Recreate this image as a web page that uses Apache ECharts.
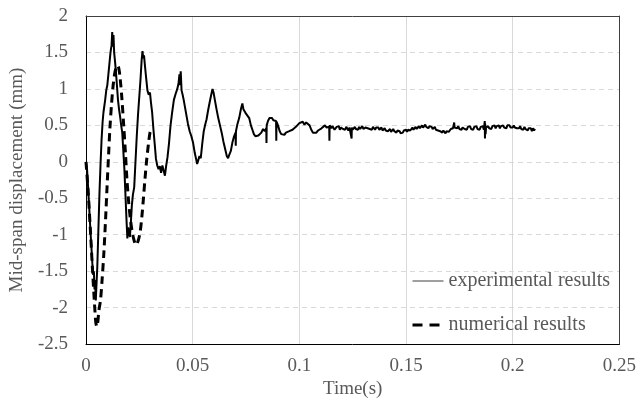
<!DOCTYPE html>
<html>
<head>
<meta charset="utf-8">
<script src="https://cdn.jsdelivr.net/npm/echarts@6/dist/echarts.min.js"></script>
<style>
  html, body { margin: 0; padding: 0; background: #fff; }
  #chart { width: 639px; height: 404px; }
</style>
</head>
<body>
<div id="chart"></div>
<script>
// Axis ranges and tick spacing
const timeTicks = { min: 0, max: 0.25, step: 0.05 };
const dispTicks = { min: -2.5, max: 2, step: 0.5 };

const seriesNames = ['experimental results', 'numerical results'];

// Measured mid-span displacement, [time (s), displacement (mm)]
const experimental = [
  [0, 0.0], [0.0005, -0.1], [0.001, -0.35], [0.0015, -0.62], [0.002, -0.9],
  [0.0025, -1.15], [0.003, -1.4], [0.0034, -1.55], [0.0037, -1.5], [0.004, -1.75],
  [0.0043, -1.62], [0.0046, -1.9], [0.0049, -1.7], [0.0053, -1.45], [0.0058, -0.95],
  [0.0063, -0.45], [0.0068, -0.05], [0.0073, 0.3], [0.0078, 0.55], [0.0082, 0.68],
  [0.0086, 0.7], [0.009, 0.85], [0.0095, 0.98], [0.01, 1.05], [0.0105, 1.2],
  [0.011, 1.35], [0.0115, 1.5], [0.012, 1.6], [0.0123, 1.78], [0.0126, 1.58],
  [0.0129, 1.74], [0.0132, 1.5], [0.0136, 1.38], [0.014, 1.25], [0.0145, 1.05],
  [0.015, 0.85], [0.0155, 0.72], [0.016, 0.62], [0.0165, 0.5], [0.017, 0.4],
  [0.0175, 0.15], [0.018, -0.1], [0.0185, -0.45], [0.019, -0.8], [0.0194, -1.05],
  [0.0198, -0.9], [0.0202, -0.98], [0.0206, -1.03], [0.021, -0.85], [0.0215, -0.6],
  [0.022, -0.45], [0.0226, -0.35], [0.0232, 0.0], [0.0238, 0.35], [0.0244, 0.65],
  [0.025, 0.9], [0.0256, 1.15], [0.0261, 1.4], [0.0265, 1.52], [0.0268, 1.42],
  [0.0272, 1.46], [0.0277, 1.3], [0.0282, 1.15], [0.0288, 0.98], [0.0294, 0.92],
  [0.03, 0.95], [0.0305, 0.8], [0.031, 0.68], [0.0316, 0.45], [0.0322, 0.25],
  [0.0328, 0.04], [0.0334, -0.05], [0.034, -0.1], [0.0346, -0.06], [0.0352, -0.15],
  [0.0358, -0.05], [0.0364, -0.12], [0.037, -0.19], [0.0376, -0.05], [0.0382, 0.06],
  [0.0389, 0.25], [0.0396, 0.49], [0.0404, 0.68], [0.0412, 0.85], [0.042, 0.93],
  [0.0428, 1.0], [0.0434, 1.08], [0.0438, 1.2], [0.0441, 1.05], [0.0444, 1.24],
  [0.0448, 0.98], [0.0453, 0.92], [0.0458, 0.85], [0.0464, 0.75], [0.047, 0.65],
  [0.0478, 0.52], [0.0486, 0.42], [0.0494, 0.35], [0.0502, 0.26], [0.051, 0.12],
  [0.0516, 0.04], [0.0521, -0.03], [0.0526, 0.02], [0.0532, 0.08], [0.0538, 0.05],
  [0.0545, 0.25], [0.0552, 0.42], [0.0558, 0.5], [0.0565, 0.58], [0.0572, 0.7],
  [0.058, 0.82], [0.0587, 0.92], [0.0593, 1.0], [0.0598, 0.95], [0.0604, 0.85],
  [0.0612, 0.72], [0.062, 0.6], [0.0628, 0.5], [0.0636, 0.4], [0.0644, 0.28],
  [0.0652, 0.18], [0.066, 0.08], [0.0666, 0.05], [0.0672, 0.1], [0.0679, 0.15],
  [0.0686, 0.26], [0.0694, 0.35], [0.0701, 0.4], [0.0702, 0.22], [0.0703, 0.42],
  [0.071, 0.52], [0.0718, 0.6], [0.0726, 0.72], [0.0733, 0.8], [0.0738, 0.72],
  [0.0744, 0.7], [0.075, 0.66], [0.0757, 0.65], [0.0765, 0.6], [0.0773, 0.5],
  [0.078, 0.44], [0.0787, 0.38], [0.0794, 0.35], [0.0801, 0.33], [0.0808, 0.36],
  [0.0815, 0.38], [0.0822, 0.4], [0.083, 0.45], [0.0838, 0.42], [0.0845, 0.46],
  [0.0846, 0.26], [0.0847, 0.5], [0.0853, 0.56], [0.086, 0.6], [0.0866, 0.58],
  [0.0872, 0.6], [0.0878, 0.57], [0.0885, 0.58], [0.0891, 0.56], [0.0892, 0.29],
  [0.0893, 0.55], [0.09, 0.5], [0.0908, 0.42], [0.0915, 0.38], [0.0922, 0.39],
  [0.093, 0.37], [0.0937, 0.4], [0.0945, 0.39], [0.0953, 0.42], [0.096, 0.41],
  [0.0968, 0.44], [0.0976, 0.46], [0.0984, 0.48], [0.0992, 0.5], [0.1, 0.53],
  [0.1008, 0.52], [0.1016, 0.55], [0.1024, 0.51], [0.1032, 0.54], [0.104, 0.52],
  [0.1048, 0.5], [0.1056, 0.44], [0.1064, 0.4], [0.1072, 0.38], [0.108, 0.4],
  [0.1088, 0.43], [0.1096, 0.42], [0.1104, 0.46], [0.1112, 0.45], [0.112, 0.5],
  [0.1128, 0.47], [0.1136, 0.49], [0.114, 0.48], [0.1141, 0.29], [0.1142, 0.5],
  [0.115, 0.46], [0.1155, 0.49], [0.116, 0.47], [0.1165, 0.44], [0.117, 0.45],
  [0.1175, 0.48], [0.118, 0.46], [0.1185, 0.49], [0.119, 0.44], [0.1195, 0.47],
  [0.12, 0.49], [0.1205, 0.45], [0.121, 0.47], [0.1215, 0.44], [0.122, 0.48],
  [0.1225, 0.46], [0.123, 0.43], [0.1235, 0.47], [0.124, 0.48],
  [0.1244, 0.45], [0.1245, 0.32], [0.1246, 0.47], [0.125, 0.44], [0.1255, 0.46],
  [0.126, 0.48], [0.1265, 0.45], [0.127, 0.47], [0.1275, 0.44], [0.128, 0.48],
  [0.1285, 0.45], [0.129, 0.47], [0.1295, 0.49], [0.13, 0.45], [0.1305, 0.43],
  [0.131, 0.47], [0.1315, 0.49], [0.132, 0.46], [0.1325, 0.48], [0.133, 0.45],
  [0.1335, 0.47], [0.134, 0.44], [0.1345, 0.48], [0.135, 0.46], [0.1355, 0.44],
  [0.136, 0.47], [0.1365, 0.45], [0.137, 0.47], [0.1375, 0.44], [0.138, 0.46],
  [0.1385, 0.47], [0.139, 0.43], [0.1395, 0.45], [0.14, 0.46], [0.1405, 0.43],
  [0.141, 0.45], [0.1415, 0.42], [0.142, 0.44], [0.1425, 0.45], [0.143, 0.41],
  [0.1435, 0.43], [0.144, 0.45], [0.1445, 0.42], [0.145, 0.44], [0.1455, 0.4],
  [0.146, 0.43], [0.1465, 0.41], [0.147, 0.42], [0.1475, 0.39], [0.148, 0.41],
  [0.1485, 0.4], [0.149, 0.43], [0.1495, 0.42], [0.15, 0.44], [0.1505, 0.41],
  [0.151, 0.44], [0.1515, 0.46], [0.152, 0.43], [0.1525, 0.45], [0.153, 0.47],
  [0.1535, 0.44], [0.154, 0.46], [0.1545, 0.48], [0.155, 0.45], [0.1555, 0.47],
  [0.156, 0.49], [0.1565, 0.46], [0.157, 0.48], [0.1575, 0.5], [0.158, 0.47],
  [0.1585, 0.49], [0.159, 0.51], [0.1595, 0.48], [0.16, 0.5], [0.1605, 0.46],
  [0.161, 0.49], [0.1615, 0.47], [0.162, 0.48], [0.1625, 0.45], [0.163, 0.47],
  [0.1635, 0.48], [0.164, 0.44], [0.1645, 0.46], [0.165, 0.43], [0.1655, 0.44],
  [0.166, 0.42], [0.1665, 0.43], [0.167, 0.4], [0.1675, 0.43], [0.168, 0.41],
  [0.1685, 0.39], [0.169, 0.42], [0.1695, 0.44], [0.17, 0.41], [0.1705, 0.43],
  [0.171, 0.45], [0.1715, 0.43], [0.172, 0.46], [0.1725, 0.48],
  [0.1726, 0.54], [0.1727, 0.47], [0.173, 0.45], [0.1735, 0.48], [0.174, 0.46],
  [0.1745, 0.49], [0.175, 0.45], [0.1755, 0.47], [0.176, 0.44], [0.1765, 0.47],
  [0.177, 0.49], [0.1775, 0.45], [0.178, 0.47], [0.1785, 0.44], [0.179, 0.48],
  [0.1795, 0.46], [0.18, 0.49], [0.1805, 0.45], [0.181, 0.47], [0.1815, 0.44],
  [0.182, 0.48], [0.1825, 0.46], [0.183, 0.49], [0.1835, 0.45], [0.184, 0.47],
  [0.1845, 0.44], [0.185, 0.48], [0.1855, 0.46], [0.186, 0.49], [0.1865, 0.44],
  [0.1869, 0.56], [0.187, 0.32], [0.1871, 0.52], [0.1873, 0.38], [0.1875, 0.47],
  [0.188, 0.45], [0.1885, 0.49], [0.189, 0.46], [0.1895, 0.48], [0.19, 0.45],
  [0.1905, 0.49], [0.191, 0.47], [0.1915, 0.5], [0.192, 0.46], [0.1925, 0.49],
  [0.193, 0.47], [0.1935, 0.5], [0.194, 0.46], [0.1945, 0.49], [0.195, 0.47],
  [0.1955, 0.5], [0.196, 0.47], [0.1965, 0.49], [0.197, 0.46], [0.1975, 0.5],
  [0.198, 0.48], [0.1985, 0.5], [0.199, 0.47], [0.1995, 0.49], [0.2, 0.47],
  [0.2005, 0.5], [0.201, 0.47], [0.2015, 0.49], [0.202, 0.46], [0.2025, 0.48],
  [0.203, 0.46], [0.2035, 0.49], [0.204, 0.45], [0.2045, 0.47], [0.205, 0.44],
  [0.2055, 0.48], [0.206, 0.45], [0.2065, 0.47], [0.207, 0.43], [0.2075, 0.46],
  [0.208, 0.44], [0.2085, 0.46], [0.209, 0.42], [0.2095, 0.46], [0.21, 0.43],
  [0.2105, 0.45]
];

// Simulated mid-span displacement, [time (s), displacement (mm)]
const numerical = [
  [0, 0.0], [0.001, -0.4], [0.002, -0.9], [0.003, -1.45], [0.004, -1.95],
  [0.0046, -2.2], [0.0051, -2.26], [0.0056, -2.18], [0.006, -2.05], [0.0068, -1.9],
  [0.0076, -1.6], [0.0084, -1.24], [0.0092, -0.78], [0.0099, -0.33], [0.0106, 0.1],
  [0.0112, 0.45], [0.012, 0.8], [0.0127, 1.04], [0.0134, 1.2], [0.0141, 1.29],
  [0.0148, 1.32], [0.0154, 1.28], [0.016, 1.15], [0.0168, 0.88], [0.0177, 0.49],
  [0.0185, 0.12], [0.0192, -0.24], [0.02, -0.55], [0.0208, -0.78], [0.0216, -0.95],
  [0.0223, -1.05], [0.0229, -1.11], [0.0235, -1.14], [0.0245, -1.08], [0.0254, -0.96],
  [0.0262, -0.75], [0.0269, -0.51], [0.0277, -0.22], [0.0285, 0.04], [0.0293, 0.25],
  [0.03, 0.4], [0.0306, 0.45]
];

const FONT = "'Liberation Serif', 'Times New Roman', serif";
const TEXT = '#595959';

// Plain frame axes (top / right) that only draw the border line
function frameAxis(position, range) {
  return {
    type: 'value', position,
    min: range.min, max: range.max, interval: range.step,
    axisLine: { show: true, onZero: false, lineStyle: { color: '#404040', width: 1 } },
    axisTick: { show: false }, axisLabel: { show: false }, splitLine: { show: false }
  };
}

const chart = echarts.init(document.getElementById('chart'), null, { renderer: 'canvas' });

chart.setOption({
  animation: false,
  backgroundColor: '#fff',
  textStyle: { fontFamily: FONT },
  grid: { left: 84, right: 17, top: 16, bottom: 58 },
  legend: {
    orient: 'vertical',
    left: 406, top: 266,
    itemWidth: 31, itemHeight: 14, itemGap: 24,
    itemStyle: { opacity: 0, borderWidth: 0 },
    textStyle: { fontFamily: FONT, fontSize: 20, color: TEXT },
    data: [
      { name: seriesNames[0], lineStyle: { width: 1, color: '#404040', type: 'solid' } },
      { name: seriesNames[1], lineStyle: { width: 3, color: '#000', type: [10, 7] } }
    ]
  },
  xAxis: [
    {
      type: 'value', position: 'bottom',
      min: timeTicks.min, max: timeTicks.max, interval: timeTicks.step,
      name: 'Time(s)', nameLocation: 'middle', nameGap: 35,
      nameTextStyle: { fontFamily: FONT, fontSize: 19, color: TEXT },
      axisLine: { show: true, onZero: false, lineStyle: { color: '#000', width: 1 } },
      axisTick: { show: false },
      axisLabel: { fontFamily: FONT, fontSize: 19, color: TEXT, margin: 12 },
      splitLine: {
        show: true, showMinLine: false, showMaxLine: false,
        lineStyle: { color: '#d9d9d9', width: 1, type: 'solid' }
      }
    },
    frameAxis('top', timeTicks)
  ],
  yAxis: [
    {
      type: 'value', position: 'left',
      min: dispTicks.min, max: dispTicks.max, interval: dispTicks.step,
      name: 'Mid-span displacement (mm)', nameLocation: 'middle', nameGap: 51,
      nameTextStyle: { fontFamily: FONT, fontSize: 19, color: TEXT },
      axisLine: { show: true, onZero: false, lineStyle: { color: '#000', width: 1 } },
      axisTick: { show: false },
      axisLabel: { fontFamily: FONT, fontSize: 19, color: TEXT, margin: 18 },
      splitLine: {
        show: true, showMinLine: false, showMaxLine: false,
        lineStyle: { color: '#d9d9d9', width: 1, type: [5, 4] }
      }
    },
    frameAxis('right', dispTicks)
  ],
  series: [
    {
      name: seriesNames[0],
      type: 'line',
      data: experimental,
      showSymbol: false, symbol: 'none',
      lineStyle: { color: '#000', width: 2 },
      itemStyle: { color: '#000' },
      z: 2
    },
    {
      name: seriesNames[1],
      type: 'line',
      data: numerical,
      showSymbol: false, symbol: 'none',
      smooth: 0.3,
      lineStyle: { color: '#000', width: 3, type: [8, 5] },
      itemStyle: { color: '#000' },
      z: 3
    }
  ]
});
</script>
</body>
</html>
